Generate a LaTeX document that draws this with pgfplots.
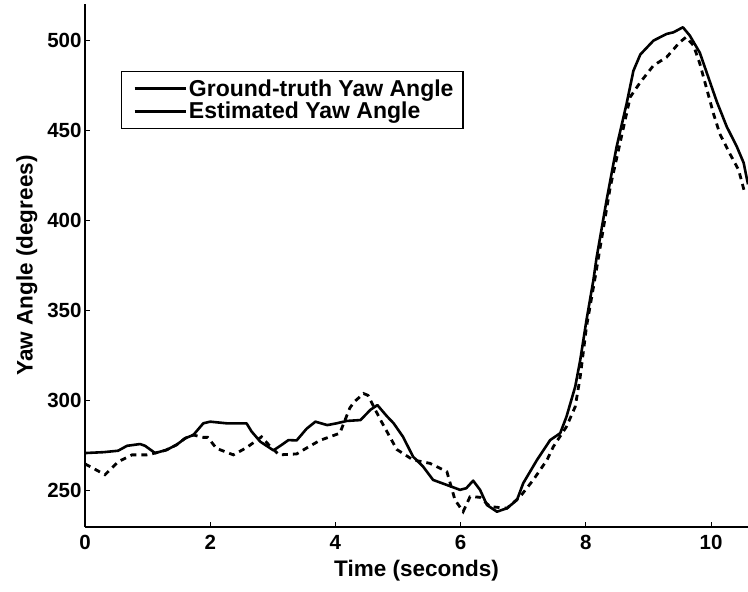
\documentclass[border=0pt]{standalone}
\usepackage{pgfplots}
\pgfplotsset{compat=1.18}
\usepackage{fontspec}
\setmainfont{Liberation Sans}

\begin{document}
\begin{tikzpicture}
\useasboundingbox (-85bp,-65bp) rectangle (663bp,527bp);
\begin{axis}[
  at={(0,0)}, anchor=south west,
  scale only axis,
  width=663bp, height=523bp,
  xmin=0, xmax=10.59, ymin=230, ymax=520,
  axis lines=left,
  axis line style={-, line width=1.3bp},
  xtick={0,2,...,10}, ytick={250,300,...,500},
  tick align=inside,
  major tick length=5bp,
  tick style={line width=1bp, black},
  /pgf/number format/assume math mode=true,
  ticklabel style={font=\fontsize{20.5bp}{20.5bp}\selectfont\bfseries},
  xticklabel style={yshift=-5bp},
  xlabel={Time (seconds)},
  ylabel={Yaw Angle (degrees)},
  label style={font=\fontsize{22.5bp}{22.5bp}\selectfont\bfseries},
  xlabel style={yshift=-3bp},
  ylabel style={yshift=3bp},
  legend style={at={(rel axis cs:0.0543,0.872)}, anchor=north west, draw=black, line width=1.2bp,
    font=\fontsize{23bp}{23bp}\selectfont\bfseries, inner xsep=1.5bp, inner ysep=6.3bp, row sep=0bp,
    /tikz/every even column/.append style={column sep=0bp}},
  legend cell align=left,
  legend image code/.code={\path (0bp,0bp); \draw[black,solid,line width=3bp] (10bp,0bp) -- (61bp,0bp);},
]
\addplot[black, line width=2.6bp, line join=round] coordinates {
(0.00,271) (0.30,271.5) (0.53,272.3) (0.67,275) (0.88,276) (0.96,275) (1.12,271)
(1.30,272.7) (1.46,275.5) (1.60,279.2) (1.73,281) (1.89,287.5) (2.00,288.4)
(2.26,287.5) (2.58,287.5) (2.66,283) (2.80,277.3) (3.01,272.5) (3.14,275.5)
(3.25,278.2) (3.38,278) (3.54,284.5) (3.68,288.4) (3.87,286.5) (4.02,287.5)
(4.18,288.8) (4.40,289.3) (4.56,295) (4.67,297.6) (4.82,291.5) (4.93,287.5)
(5.08,280) (5.24,269) (5.40,263.5) (5.56,256.1) (5.78,253.3) (5.99,250.6)
(6.09,251.5) (6.20,255.7) (6.31,250.6) (6.42,242.2) (6.58,238.5) (6.74,240.4)
(6.90,245) (7.00,254.3) (7.22,267.2) (7.43,278.2) (7.59,282) (7.69,291.1)
(7.83,307.8) (7.91,322.5) (8.01,344.7) (8.12,366.8) (8.17,379) (8.33,411)
(8.49,440.6) (8.65,464.6) (8.76,483) (8.87,492) (9.08,499.7) (9.29,503.4)
(9.40,504.3) (9.55,507.1) (9.66,502.5) (9.82,493) (9.95,480) (10.09,466)
(10.25,452) (10.41,441) (10.52,432) (10.59,420)
};
\addlegendentry{Ground-truth Yaw Angle\kern6bp}
\addplot[black, line width=2.8bp, dash pattern=on 6bp off 5bp] coordinates {
(0.00,265) (0.32,259) (0.53,266.2) (0.75,270) (0.99,270) (1.12,271) (1.30,272.7)
(1.46,275.5) (1.60,279.2) (1.73,281) (1.89,279.7) (1.96,279.7) (2.10,273.6)
(2.37,270) (2.58,274) (2.82,280) (2.95,275) (3.10,270) (3.38,270.5) (3.54,273.8)
(3.75,278) (4.07,282) (4.23,296) (4.30,299.4) (4.45,304) (4.52,303) (4.71,290)
(4.98,273) (5.24,267.2) (5.51,265.3) (5.78,260.7) (5.91,245) (6.04,238.5)
(6.15,246.8) (6.31,246.5) (6.47,241.3) (6.74,240.4) (6.95,246.8) (7.16,256.1)
(7.38,267.2) (7.48,274.5) (7.69,285.6) (7.83,296.7) (7.91,313.3) (8.01,341)
(8.15,368.7) (8.39,418.5) (8.71,468.5) (8.87,476.6) (9.08,485.9) (9.29,490.5)
(9.50,498.8) (9.60,501.6) (9.72,497) (9.82,487) (9.93,473) (10.04,459)
(10.14,448) (10.30,437) (10.44,428) (10.54,415)
};
\addlegendentry{Estimated Yaw Angle}
\end{axis}
\end{tikzpicture}
\end{document}
